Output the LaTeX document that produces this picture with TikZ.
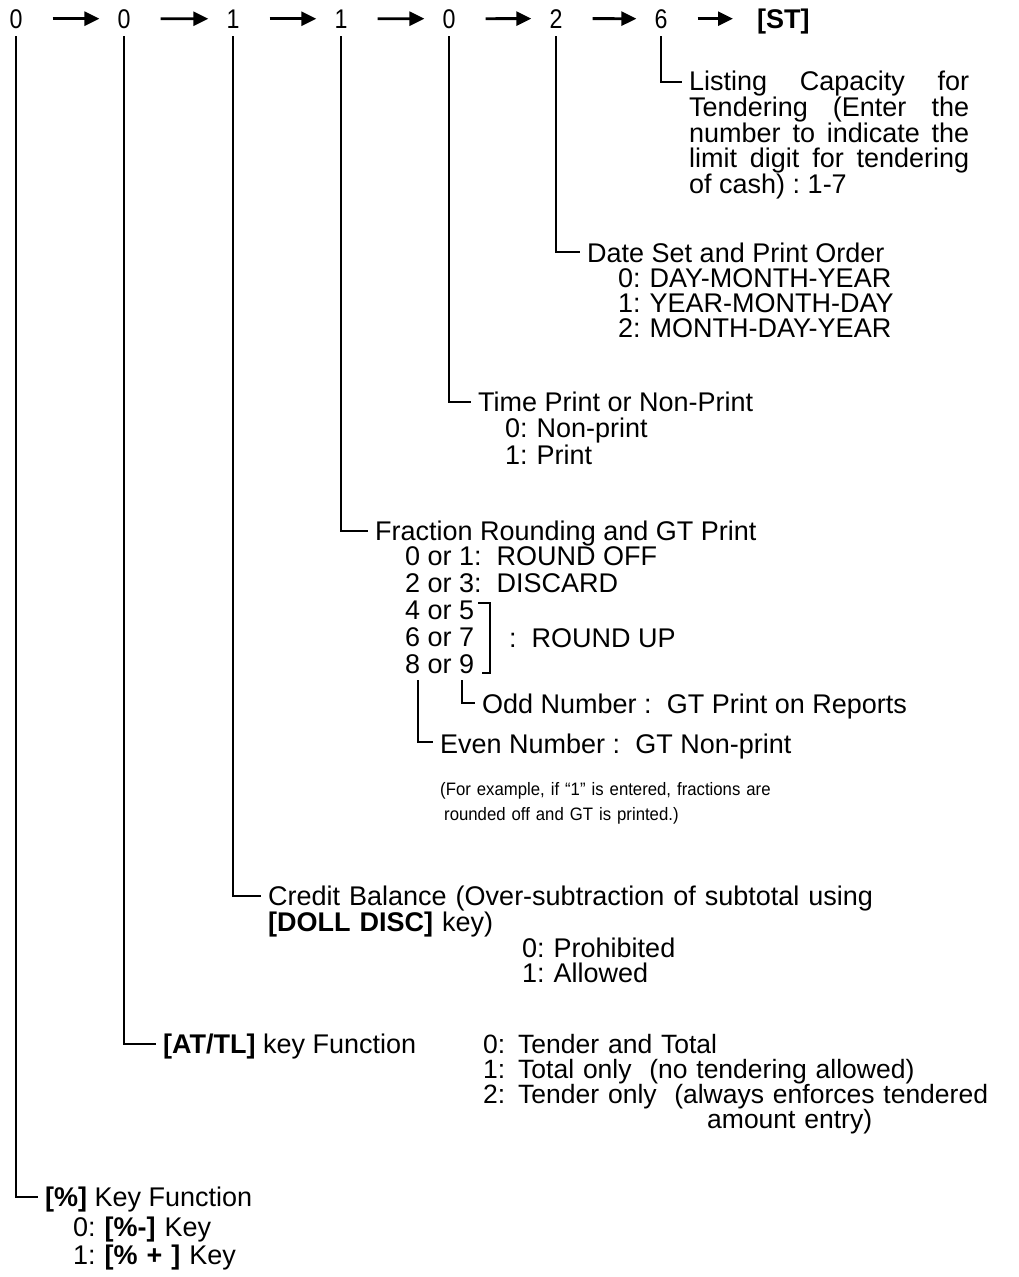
\documentclass[tikz,border=0pt]{standalone}
\usepackage{fontspec}
\setmainfont{Liberation Sans}
\newfontfamily\narrowfont[FakeStretch=0.86]{Liberation Sans}
\newfontfamily\notefamily[FakeStretch=0.93]{Liberation Sans}
\usetikzlibrary{arrows.meta,calc}
\frenchspacing
\newcommand\lblfont{\fontsize{27}{25}\selectfont}
\newcommand\digitfont{\narrowfont\fontsize{27}{27}\selectfont}
\newcommand\notefont{\notefamily\fontsize{18}{25}\selectfont}
\tikzset{
  digit/.style = {inner sep=0pt, anchor=base, font=\digitfont},
  lbl/.style   = {inner sep=0pt, anchor=base west, align=left, font=\lblfont},
  block/.style = {lbl, text width=#1},
  note/.style  = {block=400pt, font=\notefont},
  flow/.style  = {-{Triangle[length=15pt,width=14pt]}, line width=2.8pt,
                  shorten <=30pt, shorten >=18pt},
  lead/.style  = {line width=2pt, shorten >=7pt},
}

\begin{document}
\begin{tikzpicture}[x=1pt,y=-1pt]
\useasboundingbox (0,0) rectangle (1018,1277);

% the code sequence
\node[digit] (d1) at (16,28) {0};
\node[digit] (d2) at (124,28) {0};
\node[digit] (d3) at (233,28) {1};
\node[digit] (d4) at (341,28) {1};
\node[digit] (d5) at (449,28) {0};
\node[digit] (d6) at (556,28) {2};
\node[digit] (d7) at (661,28) {6};
\node[digit, anchor=base west, font=\lblfont] (st) at (757,28) {\textbf{[ST]}};

\draw[flow] (d1.east) -- (d2.west);
\draw[flow] (d2.east) -- (d3.west);
\draw[flow] (d3.east) -- (d4.west);
\draw[flow] (d4.east) -- (d5.west);
\draw[flow] (d5.east) -- (d6.west);
\draw[flow] (d6.east) -- (d7.west);
\draw[flow, shorten >=24pt] (d7.east) -- (d7.east -| st.west);

% explanations
\node[block=280pt, align=justify] (lst) at (689,90)
  {Listing Capacity for\linebreak Tendering (Enter the\linebreak
   number to indicate the\linebreak limit digit for tendering\linebreak
   of cash) : 1-7};

\node[lbl] (date) at (587,262) {Date Set and Print Order};
\node[block=350pt] (dateopt) at (618,287)
  {0: DAY-MONTH-YEAR\\1: YEAR-MONTH-DAY\\2: MONTH-DAY-YEAR};

\node[lbl] (time) at (478,411) {Time Print or Non-Print};
\node[block=200pt, font=\fontsize{27}{27}\selectfont] (timeopt) at (505,437)
  {0: Non-print\\1: Print};

\node[lbl] (frac) at (375,540) {Fraction Rounding and GT Print};
\node[lbl] (f01) at (405,565) {0 or 1:\ \ ROUND OFF};
\node[lbl] (f23) at (405,592) {2 or 3:\ \ DISCARD};
\node[lbl] (f45) at (405,619) {4 or 5};
\node[lbl] (f67) at (405,646) {6 or 7};
\node[lbl] (f89) at (405,673) {8 or 9};
\node[lbl] (rup) at (509,647) {:\ \ ROUND UP};
\draw[line width=2pt] ($(f45.north east)+(4,3)$) -| ($(f89.base east)+(16,0)$) -- ++(-8,0);

\node[lbl] (odd) at (482,713) {Odd Number :\ \ GT Print on Reports};
\node[lbl] (even) at (440,753) {Even Number :\ \ GT Non-print};
\node[note] (ex) at (440,795)
  {(For example, if “1” is entered, fractions are\\\hspace*{4pt}rounded off and GT is printed.)};

\node[block=650pt] (credit) at (268,905)
  {Credit Balance (Over-subtraction of subtotal using\\\textbf{[DOLL DISC]} key)};
\node[block=200pt] (creditopt) at (522,957) {0: Prohibited\\1: Allowed};

\node[lbl] (attl) at (163,1053) {\textbf{[AT/TL]} key Function};
\node[block=535pt, font=\fontsize{26.5}{25}\selectfont] (attlopt) at (483,1053)
  {\makebox[35pt][l]{0:}Tender and Total\\
   \makebox[35pt][l]{1:}Total only\ \ (no tendering allowed)\\
   \makebox[35pt][l]{2:}Tender only\ \ (always enforces tendered\\
   \hspace*{224pt}amount entry)};

\node[lbl] (pct) at (45,1206) {\textbf{[\%]} Key Function};
\node[block=250pt, font=\fontsize{27}{28}\selectfont] (pctopt) at (73,1236)
  {0: \textbf{[\%-]} Key\\1: \textbf{[\% + ]} Key};

% leaders
\draw[lead] ([yshift=-8pt]d7.south) |- ([yshift=8pt]lst.base west);
\draw[lead] ([yshift=-8pt]d6.south) |- ([yshift=10pt]date.base west);
\draw[lead] ([yshift=-8pt]d5.south) |- ([yshift=9pt]time.base west);
\draw[lead] ([yshift=-8pt]d4.south) |- ([yshift=9pt]frac.base west);
\draw[lead] ([yshift=-8pt]d3.south) |- ([yshift=9pt]credit.base west);
\draw[lead] ([yshift=-8pt]d2.south) |- ([yshift=9pt]attl.base west);
\draw[lead] ([yshift=-8pt]d1.south) |- ([yshift=9pt]pct.base west);
\draw[lead] ($(f89.base west)+(13,7)$) |- ([yshift=11pt]even.base west);
\draw[lead] ($(f89.base east)+(-12,7)$) |- ([yshift=10pt]odd.base west);

\end{tikzpicture}
\end{document}
